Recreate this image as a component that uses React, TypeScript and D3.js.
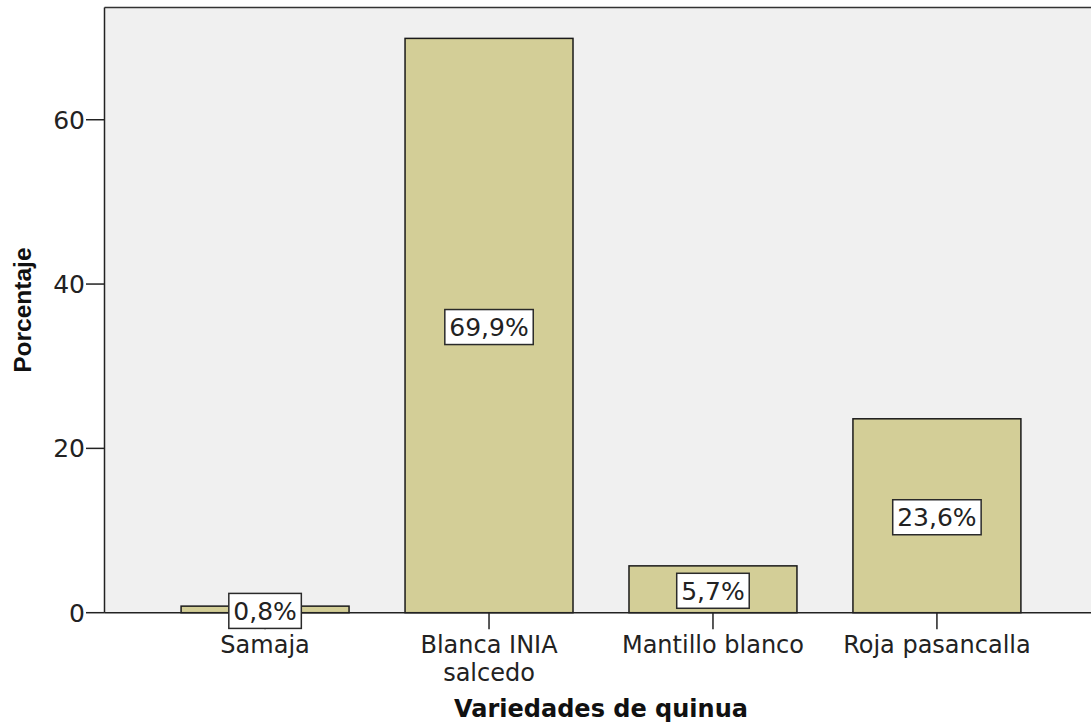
import React, { useEffect, useRef } from "react";
import * as d3 from "d3";

const categories = ["Samaja", "Blanca INIA salcedo", "Mantillo blanco", "Roja pasancalla"];
const percentages = [0.8, 69.9, 5.7, 23.6];
const valueLabels = ["0,8%", "69,9%", "5,7%", "23,6%"];
const yTicks = [0, 20, 40, 60];
const xTitle = "Variedades de quinua";
const yTitle = "Porcentaje";

const W = 1091;
const H = 723;

export default function App() {
  const ref = useRef<SVGSVGElement | null>(null);

  useEffect(() => {
    const svg = d3.select(ref.current);
    svg.selectAll("*").remove();

    const left = 104.5;
    const right = 1097.5;
    const top = 7.5;
    const bottom = 612.7;

    const x = d3
      .scaleBand<string>()
      .domain(categories)
      .range([left, right])
      .paddingInner(0.25)
      .paddingOuter(0.342);
    const y = d3.scaleLinear().domain([0, 73.66]).range([bottom, top]);

    const font = "'DejaVu Sans', sans-serif";
    const textColor = "#222";

    svg
      .append("rect")
      .attr("x", left)
      .attr("y", top)
      .attr("width", right - left)
      .attr("height", bottom - top)
      .attr("fill", "#f0f0f0");

    svg
      .append("g")
      .selectAll("rect")
      .data(percentages)
      .join("rect")
      .attr("x", (_, i) => x(categories[i])!)
      .attr("y", (d) => y(d))
      .attr("width", x.bandwidth())
      .attr("height", (d) => y(0) - y(d))
      .attr("fill", "#d3ce97")
      .attr("stroke", "#1a1a1a")
      .attr("stroke-width", 1.5);

    svg
      .append("line")
      .attr("x1", left)
      .attr("x2", W)
      .attr("y1", top)
      .attr("y2", top)
      .attr("stroke", "#333")
      .attr("stroke-width", 1.5);
    svg
      .append("line")
      .attr("x1", left)
      .attr("x2", left)
      .attr("y1", top)
      .attr("y2", bottom)
      .attr("stroke", "#222")
      .attr("stroke-width", 1.5);
    svg
      .append("line")
      .attr("x1", left)
      .attr("x2", W)
      .attr("y1", bottom)
      .attr("y2", bottom)
      .attr("stroke", "#222")
      .attr("stroke-width", 1.5);

    const yg = svg.append("g");
    yTicks.forEach((t) => {
      yg.append("line")
        .attr("x1", left - 18.5)
        .attr("x2", left)
        .attr("y1", y(t))
        .attr("y2", y(t))
        .attr("stroke", "#222")
        .attr("stroke-width", 1.5);
      yg.append("text")
        .attr("x", left - 19.5)
        .attr("y", y(t))
        .attr("dy", "0.36em")
        .attr("text-anchor", "end")
        .attr("font-family", font)
        .attr("font-size", 25)
        .attr("fill", textColor)
        .text(String(t));
    });

    const xg = svg.append("g");
    categories.forEach((c) => {
      const cx = x(c)! + x.bandwidth() / 2;
      xg.append("line")
        .attr("x1", cx)
        .attr("x2", cx)
        .attr("y1", bottom)
        .attr("y2", bottom + 16.5)
        .attr("stroke", "#222")
        .attr("stroke-width", 1.5);
      const t = xg
        .append("text")
        .attr("x", cx)
        .attr("y", 652.5)
        .attr("text-anchor", "middle")
        .attr("font-family", font)
        .attr("font-size", 24)
        .attr("fill", textColor);
      const words = c.split(" ");
      const maxW = x.step() * 0.95;
      const lines: string[] = [];
      let cur: string[] = [];
      const probe = t.append("tspan").attr("x", cx);
      words.forEach((w) => {
        const trial = [...cur, w].join(" ");
        probe.text(trial);
        const len = (probe.node() as SVGTSpanElement).getComputedTextLength();
        if (len > maxW && cur.length > 0) {
          lines.push(cur.join(" "));
          cur = [w];
        } else {
          cur.push(w);
        }
      });
      if (cur.length) lines.push(cur.join(" "));
      probe.remove();
      lines.forEach((ln, k) => {
        t.append("tspan")
          .attr("x", cx)
          .attr("dy", k === 0 ? 0 : 28)
          .text(ln);
      });
    });

    const lg = svg.append("g");
    percentages.forEach((v, i) => {
      const cx = x(categories[i])! + x.bandwidth() / 2;
      const cy = (y(v) + y(0)) / 2 + 1.5;
      const g = lg.append("g");
      const rect = g
        .append("rect")
        .attr("fill", "#ffffff")
        .attr("stroke", "#2a2a2a")
        .attr("stroke-width", 1.5);
      const txt = g
        .append("text")
        .attr("x", cx)
        .attr("y", cy)
        .attr("dy", "0.36em")
        .attr("text-anchor", "middle")
        .attr("font-family", font)
        .attr("font-size", 25)
        .attr("fill", textColor)
        .text(valueLabels[i]);
      const len = (txt.node() as SVGTextElement).getComputedTextLength();
      const bw = len + 9;
      const bh = 35;
      rect
        .attr("x", cx - bw / 2)
        .attr("y", cy - bh / 2)
        .attr("width", bw)
        .attr("height", bh);
    });

    svg
      .append("text")
      .attr("x", (left + right) / 2)
      .attr("y", 716.5)
      .attr("text-anchor", "middle")
      .attr("font-family", font)
      .attr("font-weight", "bold")
      .attr("font-size", 24)
      .attr("fill", "#111")
      .text(xTitle);

    svg
      .append("text")
      .attr("transform", `translate(31,${(top + bottom) / 2}) rotate(-90)`)
      .attr("text-anchor", "middle")
      .attr("font-family", "'Liberation Sans', Arial, sans-serif")
      .attr("font-weight", "bold")
      .attr("font-size", 24.5)
      .attr("fill", "#111")
      .text(yTitle);
  }, []);

  return (
    <svg
      ref={ref}
      width={W}
      height={H}
      style={{ position: "absolute", left: 0, top: 0, background: "#ffffff" }}
    />
  );
}
